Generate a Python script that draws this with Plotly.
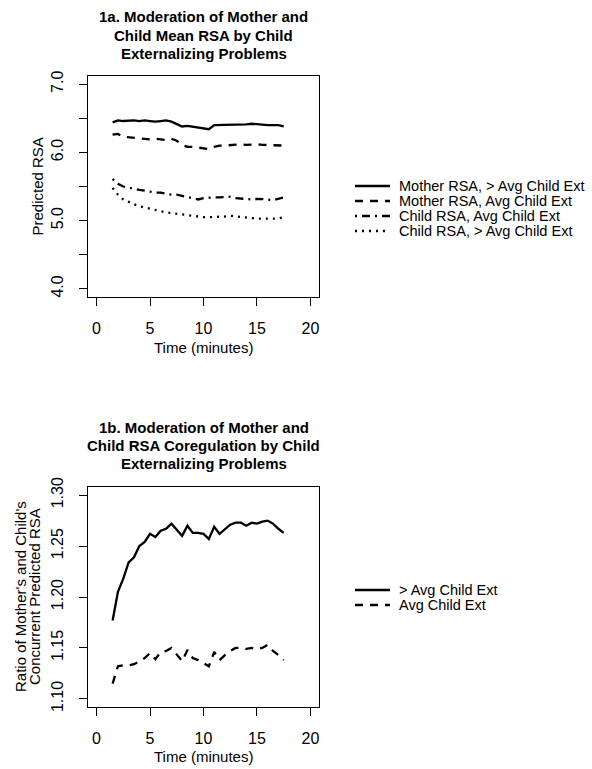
import plotly.graph_objects as go

# ---------------- data ----------------
time_min = [1.5, 2.0, 2.5, 3.0, 3.5, 4.0, 4.5, 5.0, 5.5, 6.0, 6.5, 7.0, 7.5, 8.0, 8.5,
            9.0, 9.5, 10.0, 10.5, 11.0, 11.5, 12.0, 12.5, 13.0, 13.5, 14.0, 14.5, 15.0,
            15.5, 16.0, 16.5, 17.0, 17.5]

mother_above = [6.44, 6.47, 6.46, 6.47, 6.47, 6.46, 6.47, 6.46, 6.45, 6.46, 6.47, 6.45,
                6.42, 6.38, 6.39, 6.38, 6.37, 6.36, 6.34, 6.40, 6.40, 6.41, 6.41, 6.40,
                6.40, 6.41, 6.42, 6.41, 6.41, 6.40, 6.40, 6.40, 6.38]
mother_avg = [6.26, 6.27, 6.23, 6.22, 6.21, 6.20, 6.19, 6.19, 6.20, 6.19, 6.18, 6.20,
              6.17, 6.11, 6.08, 6.08, 6.07, 6.07, 6.05, 6.08, 6.10, 6.10, 6.11, 6.12,
              6.12, 6.11, 6.12, 6.12, 6.11, 6.11, 6.10, 6.10, 6.10]
child_avg = [5.61, 5.54, 5.50, 5.48, 5.46, 5.45, 5.44, 5.42, 5.41, 5.41, 5.39, 5.38,
             5.38, 5.36, 5.35, 5.33, 5.31, 5.33, 5.34, 5.34, 5.34, 5.34, 5.35, 5.33,
             5.32, 5.31, 5.31, 5.32, 5.32, 5.31, 5.30, 5.32, 5.34]
child_above = [5.48, 5.38, 5.31, 5.27, 5.24, 5.21, 5.19, 5.17, 5.15, 5.13, 5.12, 5.11,
               5.10, 5.09, 5.08, 5.06, 5.05, 5.05, 5.05, 5.05, 5.05, 5.06, 5.07, 5.06,
               5.05, 5.04, 5.04, 5.03, 5.03, 5.03, 5.02, 5.03, 5.05]

ratio_above = [1.177, 1.205, 1.218, 1.234, 1.239, 1.250, 1.254, 1.262, 1.259, 1.265,
               1.267, 1.272, 1.266, 1.260, 1.270, 1.263, 1.263, 1.262, 1.257, 1.269,
               1.262, 1.267, 1.271, 1.273, 1.273, 1.270, 1.273, 1.272, 1.274, 1.275,
               1.272, 1.267, 1.263]
ratio_avg = [1.115, 1.132, 1.133, 1.133, 1.134, 1.137, 1.140, 1.145, 1.139, 1.146,
             1.147, 1.150, 1.144, 1.137, 1.148, 1.140, 1.138, 1.135, 1.132, 1.146,
             1.138, 1.143, 1.147, 1.150, 1.150, 1.149, 1.150, 1.149, 1.150, 1.153,
             1.147, 1.143, 1.138]

top_names = ["Mother RSA, > Avg Child Ext", "Mother RSA, Avg Child Ext",
             "Child RSA, Avg Child Ext", "Child RSA, > Avg Child Ext"]
bottom_names = ["> Avg Child Ext", "Avg Child Ext"]

x_ticks = [0, 5, 10, 15, 20]
x_ticktext = ["0", "5", "10", "15", "20"]
top_yticks = [4.0, 4.5, 5.0, 5.5, 6.0, 6.5, 7.0]
top_yticktext = ["4.0", "", "5.0", "", "6.0", "", "7.0"]
bot_yticks = [1.10, 1.15, 1.20, 1.25, 1.30]
bot_yticktext = ["1.10", "1.15", "1.20", "1.25", "1.30"]

top_title = ["1a. Moderation of Mother and", "Child Mean RSA by Child", "Externalizing Problems"]
bot_title = ["1b. Moderation of Mother and", "Child RSA Coregulation by Child", "Externalizing Problems"]
x_title = "Time (minutes)"
top_ytitle = "Predicted RSA"
bot_ytitle = ["Ratio of Mother's and Child's", "Concurrent Predicted RSA"]

# ---------------- styling ----------------
W, H = 592, 769
FONT = "Liberation Sans, Arial, Helvetica, sans-serif"
LW = 2.3
top_dashes = ["solid", "8px,7px", "2px,5px,8px,5px", "2px,5px"]
bot_dashes = ["solid", "8px,7px"]


def px(x):
    return x / W


def py(y):
    return 1 - y / H


top_series = [mother_above, mother_avg, child_avg, child_above]
bot_series = [ratio_above, ratio_avg]

fig = go.Figure()
for name, vals, dash in zip(top_names, top_series, top_dashes):
    fig.add_trace(go.Scatter(x=time_min, y=vals, mode="lines", name=name,
                             line=dict(color="black", width=LW, dash=dash),
                             xaxis="x", yaxis="y", showlegend=False))
for name, vals, dash in zip(bottom_names, bot_series, bot_dashes):
    fig.add_trace(go.Scatter(x=time_min, y=vals, mode="lines", name=name,
                             line=dict(color="black", width=LW, dash=dash),
                             xaxis="x2", yaxis="y2", showlegend=False))

box_l, box_r = 88, 319
top_t, top_b = 76, 297
bot_t, bot_b = 487, 707

common_x = dict(range=[-0.8, 20.8], tickvals=x_ticks, ticktext=x_ticktext,
                ticks="outside", ticklen=8, tickwidth=1, tickcolor="black",
                showline=True, mirror=True, linecolor="black", linewidth=1,
                showgrid=False, zeroline=False, fixedrange=True, automargin=False,
                tickfont=dict(family=FONT, size=16, color="black"),
                ticklabelstandoff=9,
                domain=[px(box_l), px(box_r)])
common_y = dict(ticks="outside", ticklen=8, tickwidth=1, tickcolor="black",
                showline=True, mirror=True, linecolor="black", linewidth=1,
                showgrid=False, zeroline=False, fixedrange=True, tickangle=-90,
                automargin=False,
                tickfont=dict(family=FONT, size=16, color="black"),
                ticklabelstandoff=10)

fig.update_layout(
    template="none",
    width=W, height=H,
    margin=dict(l=0, r=0, t=0, b=0, pad=0, autoexpand=False),
    paper_bgcolor="white", plot_bgcolor="white",
    font=dict(family=FONT, color="black"),
    showlegend=False,
    hovermode=False,
    xaxis=dict(common_x, anchor="y"),
    yaxis=dict(common_y, anchor="x", range=[3.88, 7.12], tickvals=top_yticks,
               ticktext=top_yticktext, domain=[py(top_b), py(top_t)]),
    xaxis2=dict(common_x, anchor="y2"),
    yaxis2=dict(common_y, anchor="x2", range=[1.092, 1.308], tickvals=bot_yticks,
                ticktext=bot_yticktext, domain=[py(bot_b), py(bot_t)]),
)

ann = []
cx = (box_l + box_r) / 2
for i, line in enumerate(top_title):
    ann.append(dict(text=f"<b>{line}</b>", x=px(cx), y=py(17 + 18 * i), xref="paper", yref="paper",
                    showarrow=False, xanchor="center", yanchor="middle",
                    font=dict(family=FONT, size=15, color="black")))
for i, line in enumerate(bot_title):
    ann.append(dict(text=f"<b>{line}</b>", x=px(cx), y=py(427 + 18 * i), xref="paper", yref="paper",
                    showarrow=False, xanchor="center", yanchor="middle",
                    font=dict(family=FONT, size=15, color="black")))
for yc in (347, 756):
    ann.append(dict(text=x_title, x=px(cx), y=py(yc), xref="paper", yref="paper",
                    showarrow=False, xanchor="center", yanchor="middle",
                    font=dict(family=FONT, size=15, color="black")))
ann.append(dict(text=top_ytitle, x=px(37), y=py((top_t + top_b) / 2), xref="paper", yref="paper",
                showarrow=False, xanchor="center", yanchor="middle", textangle=-90,
                font=dict(family=FONT, size=15, color="black")))
for i, line in enumerate(bot_ytitle):
    ann.append(dict(text=line, x=px(20 + 14 * i), y=py((bot_t + bot_b) / 2), xref="paper", yref="paper",
                    showarrow=False, xanchor="center", yanchor="middle", textangle=-90,
                    font=dict(family=FONT, size=15, color="black")))

# legends (line samples + labels)
shapes = []
leg_x0, leg_x1, leg_tx = 355, 390, 397
for i, (name, dash) in enumerate(zip(top_names, top_dashes)):
    yy = 186 + 15 * i
    shapes.append(dict(type="line", xref="paper", yref="paper", x0=px(leg_x0), x1=px(leg_x1),
                       y0=py(yy), y1=py(yy), line=dict(color="black", width=LW, dash=dash)))
    ann.append(dict(text=name, x=px(leg_tx), y=py(yy), xref="paper", yref="paper",
                    showarrow=False, xanchor="left", yanchor="middle",
                    font=dict(family=FONT, size=14.5, color="black")))
for i, (name, dash) in enumerate(zip(bottom_names, bot_dashes)):
    yy = 590 + 15 * i
    shapes.append(dict(type="line", xref="paper", yref="paper", x0=px(leg_x0), x1=px(leg_x1),
                       y0=py(yy), y1=py(yy), line=dict(color="black", width=LW, dash=dash)))
    ann.append(dict(text=name, x=px(leg_tx), y=py(yy), xref="paper", yref="paper",
                    showarrow=False, xanchor="left", yanchor="middle",
                    font=dict(family=FONT, size=14.5, color="black")))

fig.update_layout(annotations=ann, shapes=shapes)
fig.write_html("out.html", config={"displayModeBar": False, "staticPlot": True},
               post_script="document.body.style.margin='0px';document.body.style.overflow='hidden';")
